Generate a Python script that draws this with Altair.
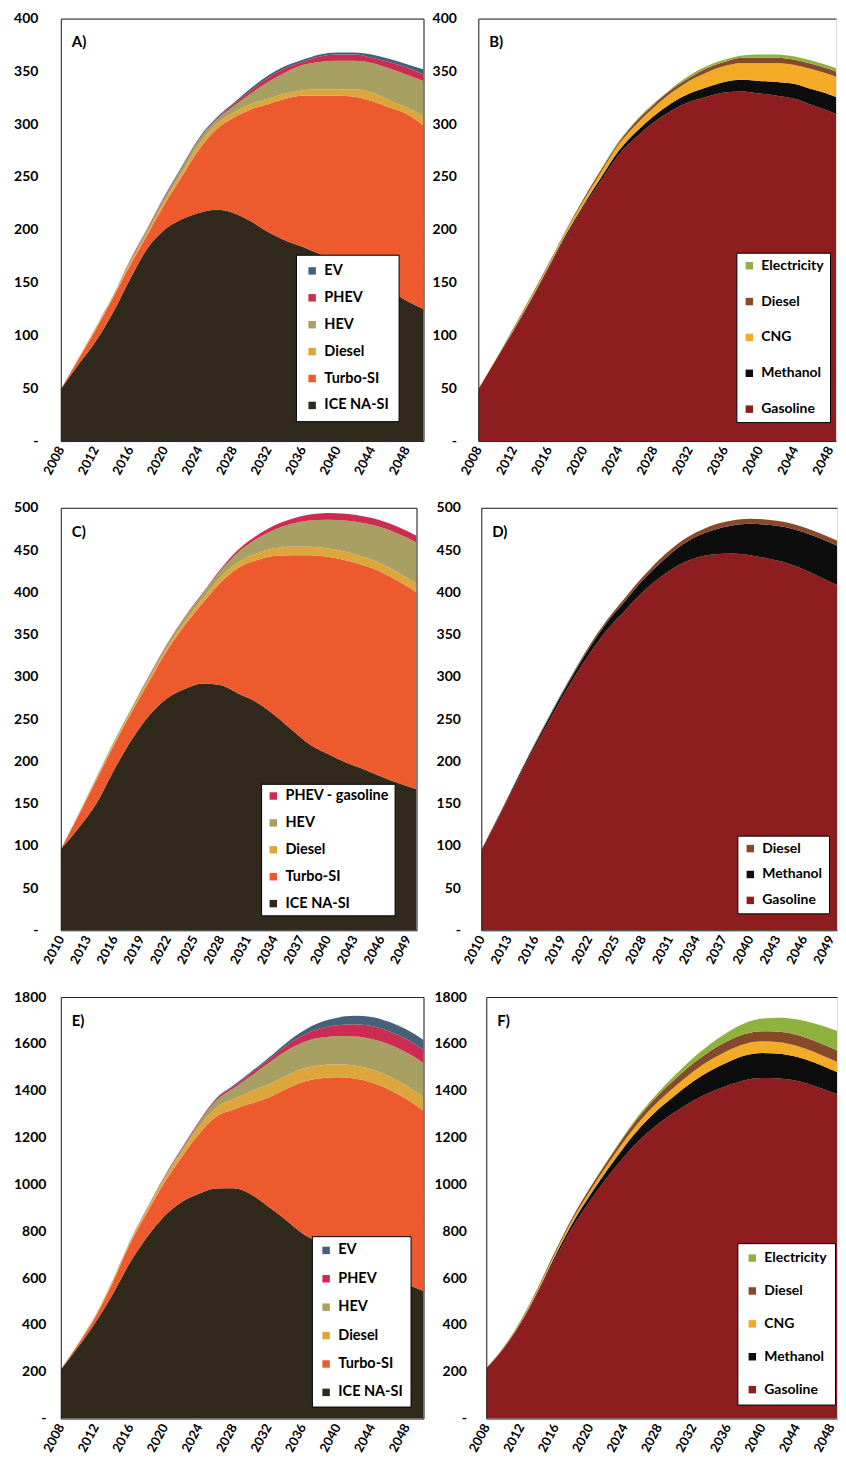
import altair as alt
import pandas as pd

FONT = "Lato"
FRAME = "#222222"

# ---------------- x categories ----------------
YEARS_AE = [2008, 2010, 2012, 2014, 2016, 2018, 2020, 2022, 2024, 2026, 2028,
            2030, 2032, 2034, 2036, 2038, 2040, 2042, 2044, 2046, 2048, 2050]
YEARS_CD = [2010, 2012, 2014, 2016, 2018, 2020, 2022, 2024, 2026, 2028, 2030,
            2032, 2034, 2036, 2038, 2040, 2042, 2044, 2046, 2048, 2050]
XTICKS_AE = [2008, 2012, 2016, 2020, 2024, 2028, 2032, 2036, 2040, 2044, 2048]
XTICKS_CD = [2010, 2013, 2016, 2019, 2022, 2025, 2028, 2031, 2034, 2037, 2040, 2043, 2046, 2049]
YTICKS_AB = [0, 50, 100, 150, 200, 250, 300, 350, 400]
YTICKS_CD = [0, 50, 100, 150, 200, 250, 300, 350, 400, 450, 500]
YTICKS_EF = [0, 200, 400, 600, 800, 1000, 1200, 1400, 1600, 1800]

# ---------------- Panel A (vehicle technology) ----------------
A_ICE = [49, 72, 94, 121, 153, 182, 200, 210, 216, 219, 216, 208, 198, 190, 184, 177, 170, 163, 154, 144, 133, 125]
A_TURBO = [0, 5, 11, 14, 13, 13, 24, 40, 60, 76, 90, 106, 121, 134, 143, 150, 157, 163, 168, 172, 177, 174]
A_DIESEL = [0, 1, 1, 1, 2, 2, 3, 4, 5, 5, 5, 5, 5, 5, 5, 6, 6, 7, 8, 7, 6, 8]
A_HEV = [0, 0, 1, 1, 2, 3, 3, 4, 4, 4, 6, 10, 16, 20, 24, 26, 27, 27, 28, 30, 31, 34]
A_PHEV = [0, 0, 0, 0, 1, 1, 1, 1, 1, 1, 2, 3, 4, 4, 3, 5, 6, 6, 5, 6, 7, 6]
A_EV = [0, 0, 0, 0, 0, 0, 1, 1, 1, 1, 1, 2, 2, 2, 2, 2, 2, 2, 3, 3, 3, 5]

# ---------------- Panel B (fuel) ----------------
B_GASOLINE = [49, 77, 104, 133, 164, 194, 222, 247, 271, 288, 302, 313, 321, 326, 330, 331, 329, 327, 324, 318, 312, 304]
B_METHANOL = [0, 0, 1, 1, 1, 2, 2, 3, 4, 5, 6, 7, 8, 9, 10, 11, 12, 13, 14, 15, 16, 17]
B_CNG = [0, 1, 1, 2, 2, 3, 4, 5, 6, 7, 8, 10, 12, 14, 15, 16, 17, 18, 18, 19, 19, 19]
B_DIESEL = [0, 0, 1, 1, 1, 1, 2, 2, 2, 3, 3, 3, 3, 4, 4, 5, 5, 5, 5, 5, 5, 5]
B_ELEC = [0, 0, 0, 0, 0, 0, 0, 1, 1, 1, 1, 1, 2, 2, 2, 2, 3, 3, 3, 3, 3, 4]

# ---------------- Panel C (vehicle technology) ----------------
C_ICE = [96, 121, 150, 190, 226, 255, 275, 286, 292, 290, 280, 270, 255, 237, 220, 209, 199, 191, 182, 174, 167]
C_TURBO = [0, 15, 28, 30, 33, 41, 57, 76, 96, 122, 149, 168, 188, 207, 224, 233, 239, 241, 242, 239, 233]
C_DIESEL = [0, 1, 1, 2, 2, 3, 3, 4, 5, 6, 7, 8, 9, 10, 10, 10, 10, 10, 10, 10, 10]
C_HEV = [0, 1, 2, 2, 3, 3, 4, 5, 6, 8, 12, 17, 22, 27, 31, 34, 37, 40, 43, 46, 49]
C_PHEV = [0, 0, 0, 0, 0, 1, 1, 1, 1, 2, 3, 4, 5, 6, 7, 8, 8, 8, 8, 8, 8]

# ---------------- Panel D (fuel) ----------------
D_GASOLINE = [95, 135, 177, 217, 256, 293, 326, 355, 378, 400, 418, 432, 441, 445, 446, 444, 440, 435, 427, 417, 407]
D_METHANOL = [0, 1, 2, 3, 4, 5, 7, 9, 11, 14, 17, 21, 25, 29, 33, 37, 40, 42, 44, 46, 47]
D_DIESEL = [0, 1, 1, 2, 2, 2, 3, 3, 4, 4, 5, 5, 5, 6, 6, 6, 6, 6, 6, 6, 6]

# ---------------- Panel E (vehicle technology) ----------------
E_ICE = [208, 305, 410, 530, 665, 775, 865, 925, 960, 982, 983, 958, 905, 850, 790, 750, 712, 676, 642, 608, 575, 545]
E_TURBO = [2, 12, 24, 50, 80, 105, 142, 191, 255, 308, 337, 387, 465, 555, 647, 702, 745, 776, 793, 797, 790, 770]
E_DIESEL = [0, 2, 4, 6, 8, 12, 16, 22, 30, 38, 45, 52, 56, 57, 57, 56, 56, 56, 56, 57, 57, 57]
E_HEV = [0, 1, 2, 3, 4, 6, 8, 12, 18, 30, 45, 65, 90, 105, 112, 118, 120, 124, 130, 136, 142, 146]
E_PHEV = [0, 0, 0, 1, 1, 2, 3, 4, 5, 7, 9, 12, 15, 22, 30, 40, 47, 52, 55, 56, 57, 57]
E_EV = [0, 0, 0, 0, 0, 0, 1, 1, 2, 3, 4, 6, 8, 12, 18, 25, 32, 36, 39, 40, 41, 42]

# ---------------- Panel F (fuel) ----------------
F_GASOLINE = [215, 298, 406, 537, 683, 816, 928, 1028, 1118, 1197, 1260, 1311, 1357, 1393, 1422, 1445, 1454, 1452, 1442, 1421, 1395, 1368]
F_METHANOL = [0, 2, 4, 8, 12, 18, 24, 32, 42, 52, 62, 72, 82, 92, 100, 105, 107, 106, 103, 100, 96, 92]
F_CNG = [0, 3, 6, 9, 12, 15, 18, 21, 25, 29, 33, 38, 42, 46, 49, 50, 50, 49, 47, 45, 43, 42]
F_DIESEL = [0, 2, 4, 6, 8, 10, 13, 16, 20, 24, 28, 32, 36, 39, 41, 42, 43, 45, 47, 48, 49, 50]
F_ELEC = [0, 0, 0, 0, 0, 1, 2, 3, 5, 8, 12, 17, 23, 30, 38, 46, 54, 60, 66, 74, 82, 88]

# ---------------- colours ----------------
TECH_COLORS = {"EV": "#46607a", "PHEV": "#cc2b52", "PHEV - gasoline": "#cc2b52", "HEV": "#a7a062",
               "Diesel": "#dea63a", "Turbo-SI": "#ec5a2e", "ICE NA-SI": "#30291c"}
FUEL_COLORS = {"Electricity": "#8fb23e", "Diesel": "#86492a", "CNG": "#f3aa26",
               "Methanol": "#0d0d0d", "Gasoline": "#8e1d20"}


def build_df(years, stack):
    rows = []
    for rank, (name, vals) in enumerate(stack):
        for yr, v in zip(years, vals):
            rows.append({"year": yr, "value": v, "series": name, "rank": rank})
    return pd.DataFrame(rows)


def panel(years, stack, cmap, xticks, yticks, xmax, width, height, tag,
          lx, ly, lpad, lrow, ylabpad, lfont=14.5, right_frame=True):
    df = build_df(years, stack)
    legend_domain = [name for name, _ in stack][::-1]
    colors = [cmap[n] for n in legend_domain]
    xscale = alt.Scale(domain=[years[0], xmax], nice=False, zero=False)
    yscale = alt.Scale(domain=[0, yticks[-1]], nice=False, zero=True)
    area = alt.Chart(df).mark_area(interpolate="monotone", clip=True).encode(
        x=alt.X("year:Q", title=None, scale=xscale,
                axis=alt.Axis(values=xticks, format="d", labelAngle=-62, labelFont=FONT,
                              labelFontSize=13, labelFontWeight="bold", labelColor="black",
                              ticks=False, domain=True, domainColor=FRAME, domainWidth=1,
                              grid=False, labelPadding=6, zindex=1,
                              labelOverlap=False, labelFlush=False, labelBound=False)),
        y=alt.Y("value:Q", title=None, stack="zero", scale=yscale,
                axis=alt.Axis(values=yticks, format="d",
                              labelExpr="datum.value == 0 ? '-' : datum.label",
                              labelFont=FONT, labelFontSize=14, labelFontWeight="bold",
                              labelColor="black", ticks=False, domain=True,
                              domainColor=FRAME, domainWidth=1, grid=False, zindex=1,
                              labelPadding=ylabpad, labelFlush=False, labelOverlap=False)),
        color=alt.Color("series:N", sort=legend_domain,
                        scale=alt.Scale(domain=legend_domain, range=colors),
                        legend=alt.Legend(title=None, orient="none", legendX=lx, legendY=ly,
                                          fillColor="white", strokeColor="black",
                                          padding=lpad, rowPadding=lrow,
                                          symbolType="square", symbolSize=56,
                                          symbolStrokeWidth=0, labelFont=FONT,
                                          labelFontSize=lfont, labelFontWeight="bold",
                                          labelColor="black", labelOffset=5,
                                          labelLimit=200)),
        order=alt.Order("rank:Q", sort="ascending"),
    )
    right_axis = (alt.Axis(orient="right", labels=False, ticks=False, domain=True,
                           domainColor=FRAME, domainWidth=1, grid=False, title=None, zindex=1)
                  if right_frame else None)
    frame = alt.Chart(df).mark_point(opacity=0, clip=True).encode(
        x=alt.X("year:Q", scale=xscale,
                axis=alt.Axis(orient="top", labels=False, ticks=False, domain=True,
                              domainColor=FRAME, domainWidth=1, grid=False, title=None,
                              zindex=1)),
        y=alt.Y("value:Q", scale=yscale, axis=right_axis),
    )
    text = alt.Chart(pd.DataFrame({"tag": [tag]})).mark_text(
        align="left", baseline="alphabetic", font=FONT, fontSize=15, fontWeight="bold",
        color="black").encode(x=alt.value(11), y=alt.value(29), text="tag:N")
    return alt.layer(area, frame, text).resolve_axis(
        x="independent", y="independent").properties(width=width, height=height)


pA = panel(YEARS_AE, [("ICE NA-SI", A_ICE), ("Turbo-SI", A_TURBO), ("Diesel", A_DIESEL),
                      ("HEV", A_HEV), ("PHEV", A_PHEV), ("EV", A_EV)],
           TECH_COLORS, XTICKS_AE, YTICKS_AB, 2050, 364, 424, "A)", 236, 237, 9, 12, 23)
pB = panel(YEARS_AE, [("Gasoline", B_GASOLINE), ("Methanol", B_METHANOL), ("CNG", B_CNG),
                      ("Diesel", B_DIESEL), ("Electricity", B_ELEC)],
           FUEL_COLORS, XTICKS_AE, YTICKS_AB, 2048.7, 359, 424, "B)", 259, 235, 6, 22, 22,
           lfont=14, right_frame=False)
pC = panel(YEARS_CD, [("ICE NA-SI", C_ICE), ("Turbo-SI", C_TURBO), ("Diesel", C_DIESEL),
                      ("HEV", C_HEV), ("PHEV - gasoline", C_PHEV)],
           TECH_COLORS, XTICKS_CD, YTICKS_CD, 2050, 357, 424, "C)", 201, 277, 5, 12, 23)
pD = panel(YEARS_CD, [("Gasoline", D_GASOLINE), ("Methanol", D_METHANOL), ("Diesel", D_DIESEL)],
           FUEL_COLORS, XTICKS_CD, YTICKS_CD, 2049.7, 357, 424, "D)", 257, 329, 6, 12, 21,
           lfont=14, right_frame=False)
pE = panel(YEARS_AE, [("ICE NA-SI", E_ICE), ("Turbo-SI", E_TURBO), ("Diesel", E_DIESEL),
                      ("HEV", E_HEV), ("PHEV", E_PHEV), ("EV", E_EV)],
           TECH_COLORS, XTICKS_AE, YTICKS_EF, 2050, 364, 423, "E)", 252, 240, 7, 13.5, 15)
pF = panel(YEARS_AE, [("Gasoline", F_GASOLINE), ("Methanol", F_METHANOL), ("CNG", F_CNG),
                      ("Diesel", F_DIESEL), ("Electricity", F_ELEC)],
           FUEL_COLORS, XTICKS_AE, YTICKS_EF, 2048.7, 352, 423, "F)", 252, 247, 8, 19, 20,
           lfont=14, right_frame=False)


def row(a, b, sp):
    return alt.hconcat(a, b, spacing=sp).resolve_scale(
        color="independent", x="independent", y="independent").resolve_legend(color="independent")


chart = alt.vconcat(
    row(pA, pB, 7), row(pC, pD, 18), row(pE, pF, 9), spacing=22
).resolve_scale(
    color="independent", x="independent", y="independent"
).resolve_legend(color="independent").properties(
    padding={"left": 5, "top": 0, "right": 0, "bottom": 0}
).configure_view(stroke=None).configure(background="white")

chart.save("out.html", embed_options={"renderer": "svg", "actions": False})
